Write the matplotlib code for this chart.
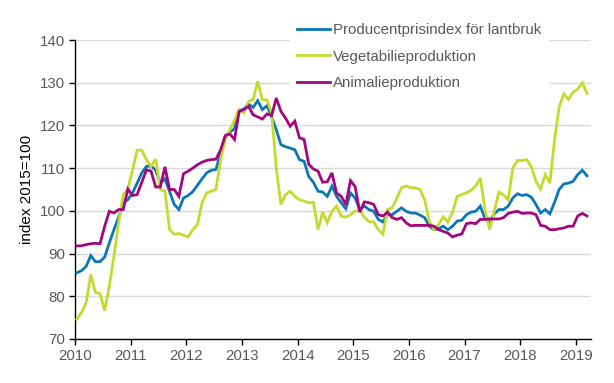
import matplotlib
matplotlib.use("Agg")
import matplotlib.pyplot as plt
import numpy as np

# monthly index values, Jan 2010 - Mar 2019
PRODUCENTPRIS = [
    85.5, 86.0, 87.0, 89.5, 88.1, 88.1, 89.2, 92.5, 95.6, 98.5, 101.9, 102.6,
    104.2, 106.5, 108.9, 110.4, 110.5, 109.5, 106.5, 107.5, 104.5, 101.5, 100.3, 103.0,
    103.6, 104.5, 106.0, 107.5, 108.9, 109.5, 109.7, 113.5, 117.5, 118.5, 119.2, 123.5,
    123.8, 125.0, 124.2, 125.8, 123.7, 124.6, 122.0, 119.0, 115.5, 115.0, 114.7, 114.3,
    112.0, 111.6, 108.0, 106.7, 104.6, 104.4, 103.4, 105.8, 103.4, 101.9, 100.5, 104.2,
    103.0, 100.3, 101.1, 100.3, 99.9, 98.0, 97.4, 99.1, 99.1, 99.9, 100.7, 99.9,
    99.5, 99.5, 99.0, 98.4, 96.4, 95.6, 95.8, 96.4, 95.6, 96.4, 97.6, 97.8,
    99.1, 99.7, 99.9, 101.1, 98.2, 97.4, 99.3, 100.3, 100.3, 101.1, 103.0, 104.0,
    103.6, 103.8, 103.2, 101.5, 99.5, 100.3, 99.3, 102.0, 105.0, 106.3, 106.5, 106.9,
    108.5, 109.5, 108.2,
]

VEGETABILIE = [
    74.6, 76.2, 78.5, 85.1, 80.9, 80.6, 76.6, 82.4, 89.4, 97.2, 103.8, 105.0,
    109.6, 114.2, 114.2, 112.0, 110.4, 112.1, 105.0, 104.6, 95.6, 94.5, 94.7, 94.3,
    93.9, 95.6, 96.8, 101.9, 104.2, 104.6, 105.0, 112.0, 116.7, 119.0, 121.3, 123.7,
    122.9, 125.6, 126.0, 130.3, 126.0, 126.0, 122.9, 110.0, 101.5, 103.8, 104.6, 103.4,
    102.6, 102.3, 101.9, 102.0, 95.6, 99.7, 97.2, 99.9, 101.1, 98.8, 98.5, 99.1,
    99.9, 100.3, 98.5, 97.5, 97.4, 95.6, 94.5, 100.3, 100.7, 103.0, 105.4, 105.8,
    105.4, 105.4, 105.0, 102.6, 97.6, 95.6, 96.8, 98.6, 97.4, 99.7, 103.4, 103.8,
    104.2, 104.8, 105.8, 107.7, 100.3, 95.6, 99.9, 104.4, 103.7, 102.6, 110.0, 111.8,
    111.8, 112.0, 110.3, 106.9, 105.1, 108.5, 106.5, 116.7, 124.3, 127.4, 126.1, 127.8,
    128.5, 130.0, 127.5,
]

ANIMALIE = [
    91.8, 91.8, 92.1, 92.3, 92.4, 92.3, 96.4, 99.9, 99.5, 100.3, 100.3, 105.1,
    103.6, 103.8, 106.7, 109.6, 109.3, 105.6, 105.6, 110.3, 105.0, 105.0, 103.4, 108.7,
    109.3, 110.0, 110.8, 111.4, 111.8, 112.0, 112.1, 114.3, 117.6, 118.0, 116.7, 123.3,
    123.7, 124.5, 122.5, 122.0, 121.5, 122.7, 122.3, 126.4, 123.3, 121.7, 119.8, 121.0,
    117.1, 116.7, 110.9, 109.8, 109.3, 106.7, 106.8, 108.9, 104.2, 103.4, 101.5, 107.1,
    105.7, 99.7, 102.1, 101.9, 101.5, 99.1, 98.8, 99.7, 98.4, 98.0, 98.4, 97.2,
    96.5, 96.6, 96.6, 96.6, 96.6, 96.4, 95.6, 95.2, 94.8, 93.9, 94.3, 94.6,
    97.0, 97.2, 97.0, 98.0, 98.0, 98.1, 98.1, 98.1, 98.4, 99.4, 99.7, 99.9,
    99.4, 99.5, 99.5, 99.1, 96.6, 96.4, 95.6, 95.6, 95.8, 96.0, 96.4, 96.4,
    98.8, 99.4, 98.8,
]

LABELS = [
    "Producentprisindex för lantbruk",
    "Vegetabilieproduktion",
    "Animalieproduktion",
]
COLORS = ["#0b77b3", "#c5da2c", "#a2077f"]

YEARS = list(range(2010, 2020))
Y_TICKS = [70, 80, 90, 100, 110, 120, 130, 140]

TEXT_COLOR = "#595959"

plt.rcParams["font.family"] = ["Liberation Sans", "DejaVu Sans"]

fig = plt.figure(figsize=(6.14, 3.83), dpi=100)
ax = fig.add_axes([75 / 614, 1 - 339 / 383, (590.7 - 75) / 614, (339 - 40) / 383])

x = 2010 + (np.arange(len(PRODUCENTPRIS)) + 0.4) / 12

lines = []
for values, label, color in zip([PRODUCENTPRIS, VEGETABILIE, ANIMALIE], LABELS, COLORS):
    ln, = ax.plot(x, values, color=color, linewidth=2.0, label=label,
                  solid_joinstyle="miter", zorder=3)
    lines.append(ln)

ax.set_xlim(2010, 2010 + 111.2 / 12)
ax.set_ylim(70, 140)

ax.set_xticks(YEARS)
ax.set_xticklabels([str(y) for y in YEARS])
ax.set_yticks(Y_TICKS)

ax.grid(axis="y", color="#d9d9d9", linewidth=1.0)
ax.set_axisbelow(True)

for side in ["top", "right"]:
    ax.spines[side].set_visible(False)
for side in ["left", "bottom"]:
    ax.spines[side].set_color("black")
    ax.spines[side].set_linewidth(1.0)

ax.tick_params(axis="both", colors="black", labelcolor=TEXT_COLOR,
               labelsize=10.8, length=4, width=1.0, direction="out")
ax.tick_params(axis="x", pad=3)
ax.tick_params(axis="y", pad=3)

ax.set_ylabel("index 2015=100", fontsize=11, color="black", labelpad=4)

leg = fig.legend(
    handles=lines,
    loc="upper left",
    bbox_to_anchor=(290 / 614, 1 - 16 / 383),
    frameon=True,
    fontsize=10.8,
    handlelength=2.2,
    handletextpad=0.2,
    labelspacing=0.85,
    borderpad=0.45,
    borderaxespad=0,
)
leg.get_frame().set_facecolor("white")
leg.get_frame().set_edgecolor("white")
leg.get_frame().set_alpha(1.0)
for t in leg.get_texts():
    t.set_color(TEXT_COLOR)

fig.savefig("out.png", dpi=100)
